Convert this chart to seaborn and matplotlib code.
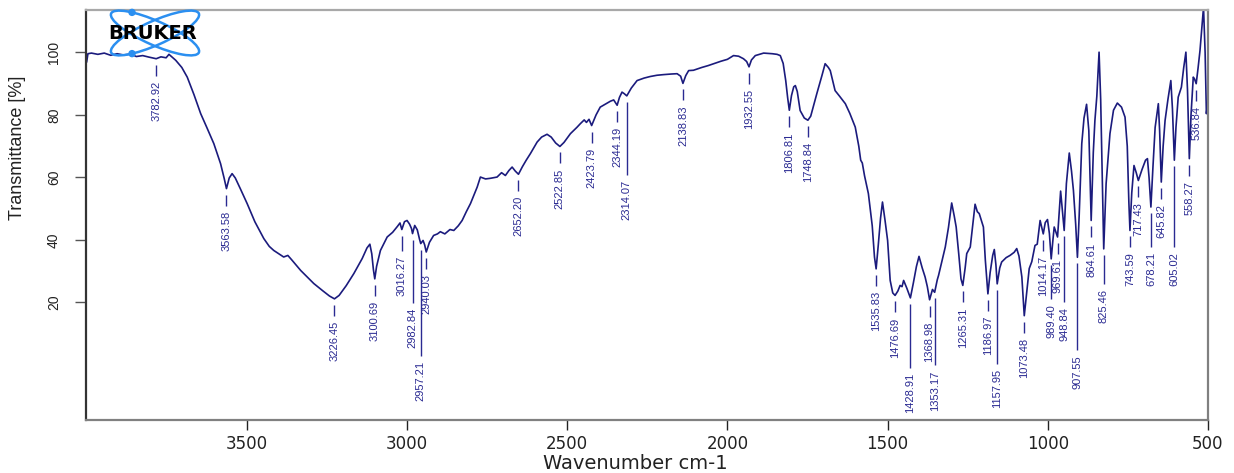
import matplotlib
matplotlib.use("Agg")
import numpy as np
import pandas as pd
import matplotlib.pyplot as plt
import seaborn as sns
from matplotlib.patches import Ellipse, Circle
from matplotlib import font_manager

# ---- spectrum (wavenumber in cm-1, transmittance in %) ----
wavenumber = [
    4000, 3996, 3985, 3965, 3945, 3925, 3905, 3885, 3862, 3845, 3825, 3805,
    3782.92, 3768, 3752, 3743, 3722, 3703, 3686, 3665, 3644, 3625, 3603, 3582,
    3571, 3563.58, 3555, 3546, 3536, 3520, 3499, 3475, 3447, 3430, 3416, 3385,
    3372, 3360, 3332, 3291, 3262, 3242, 3226.45, 3212, 3190, 3166, 3140, 3125,
    3116, 3110, 3105, 3100.69, 3095, 3083, 3062, 3045, 3030, 3022, 3016.27,
    3008, 3000, 2992, 2986, 2982.84, 2976, 2968, 2961, 2957.21, 2950, 2945,
    2940.03, 2930, 2917, 2905, 2896, 2882, 2866, 2854, 2840, 2828, 2815, 2802,
    2790, 2781, 2771, 2755, 2740, 2719, 2705, 2693, 2682, 2672, 2662, 2652.20,
    2640, 2628, 2615, 2594, 2580, 2563, 2550, 2536, 2522.85, 2510, 2490, 2470,
    2459, 2447, 2440, 2432, 2423.79, 2410, 2397, 2380, 2365, 2355, 2344.19,
    2337, 2329, 2322, 2314.07, 2300, 2282, 2260, 2241, 2220, 2200, 2175, 2157,
    2146, 2138.83, 2130, 2121, 2106, 2080, 2060, 2043, 2020, 2000, 1981, 1965,
    1950, 1940, 1932.55, 1925, 1913, 1887, 1860, 1845, 1835, 1826, 1818, 1812,
    1806.81, 1800, 1793, 1788, 1782, 1773, 1760, 1748.84, 1740, 1721, 1705,
    1695, 1685, 1679, 1664, 1650, 1632, 1618, 1601, 1590, 1584, 1579, 1572,
    1560, 1548, 1541, 1535.83, 1529, 1522, 1516, 1508, 1500, 1492, 1484,
    1476.69, 1468, 1461, 1455, 1450, 1440, 1428.91, 1420, 1410, 1402, 1392,
    1383, 1376, 1368.98, 1360, 1353.17, 1345, 1341, 1320, 1310, 1300, 1292,
    1286, 1278, 1271, 1265.31, 1258, 1253, 1242, 1235, 1227, 1220, 1214, 1201,
    1195, 1186.97, 1180, 1172, 1167, 1162, 1157.95, 1150, 1144, 1130, 1118,
    1105, 1097, 1090, 1081, 1073.48, 1065, 1058, 1050, 1040, 1033, 1024,
    1014.17, 1008, 1001, 995, 989.40, 984, 980, 975, 969.61, 965, 960, 955,
    948.84, 942, 933, 926, 920, 913, 907.55, 902, 894, 887, 879, 872, 864.61,
    858, 853, 847, 840, 835, 830, 825.46, 818, 806, 795, 783, 770, 759, 752,
    747, 743.59, 738, 731, 724, 717.43, 706, 695, 689, 684, 678.21, 672, 665,
    655, 651, 645.82, 640, 634, 625, 616, 611, 605.02, 600, 593, 583, 576, 569,
    564, 558.27, 553, 546, 542, 536.84, 531, 525, 519, 514, 509, 505, 501,
]
transmittance = [
    96.9, 99.6, 99.8, 99.4, 99.8, 99.1, 99.6, 99.2, 99.5, 98.7, 99.0, 98.5,
    98.0, 98.6, 98.3, 99.4, 97.5, 95.2, 92.1, 86.5, 80.4, 76.0, 70.8, 64.4,
    59.8, 56.4, 59.8, 61.2, 59.8, 56.3, 51.6, 45.8, 40.4, 37.9, 36.6, 34.5,
    35.0, 33.6, 30.2, 26.0, 23.6, 22.0, 21.1, 22.2, 25.3, 29.2, 34.0, 37.4,
    38.6, 35.5, 30.5, 27.5, 31.5, 36.6, 40.9, 42.4, 44.3, 45.4, 43.3,
    45.8, 46.2, 45.0, 43.6, 42.0, 44.6, 43.2, 40.2, 38.8, 39.8, 38.4,
    36.1, 39.2, 41.4, 41.9, 42.6, 41.9, 43.3, 43.0, 44.5, 46.2, 49.0, 51.6,
    54.6, 56.9, 60.1, 59.5, 59.7, 60.1, 61.5, 60.6, 62.2, 63.3, 62.0, 61.0,
    63.4, 65.5, 67.6, 71.3, 72.9, 73.8, 72.9, 71.0, 69.9, 71.2, 74.0, 76.0,
    77.2, 78.4, 77.6, 78.6, 76.6, 80.0, 82.5, 83.5, 84.4, 84.8, 83.1,
    85.6, 87.3, 86.8, 86.1, 88.6, 91.0, 91.8, 92.3, 92.7, 92.9, 93.1, 93.2,
    92.4, 90.1, 92.6, 94.2, 94.3, 95.2, 95.8, 96.4, 97.2, 97.8, 99.0, 98.8,
    98.0, 97.1, 95.4, 97.6, 99.0, 99.8, 99.6, 99.4, 99.0, 96.5, 91.0, 85.5,
    81.5, 86.2, 89.0, 89.4, 87.5, 81.4, 79.0, 78.3, 79.6, 86.8, 92.6,
    96.4, 95.2, 94.2, 87.8, 86.0, 83.6, 80.5, 76.1, 70.0, 65.5, 64.6, 60.5,
    54.8, 44.5, 34.5, 30.7, 38.5, 47.0, 52.1, 46.2, 39.8, 27.0, 23.0,
    22.2, 23.6, 25.4, 25.0, 27.0, 24.5, 21.4, 26.0, 31.5, 34.7, 31.0,
    28.1, 25.0, 20.8, 24.1, 23.2, 27.2, 28.6, 37.7, 44.0, 51.8, 47.6,
    44.1, 35.5, 27.5, 25.4, 31.0, 35.6, 37.7, 44.0, 51.4, 49.0, 48.4, 44.1,
    33.5, 22.7, 29.5, 35.0, 36.9, 32.0, 25.9, 31.0, 32.9, 34.3, 35.0,
    36.0, 37.2, 34.8, 28.1, 15.7, 24.0, 30.8, 33.0, 38.2, 38.6, 46.2,
    41.9, 45.5, 46.5, 42.0, 33.9, 40.0, 44.1, 42.6, 40.9, 48.0, 55.6, 50.0,
    43.0, 58.0, 67.8, 62.0, 55.8, 45.0, 34.4, 48.0, 70.8, 79.0, 83.4, 75.0, 46.2,
    68.0, 78.2, 86.0, 100.1, 85.0, 60.0, 37.1, 58.0, 74.0, 81.5, 83.8, 82.5, 79.3, 70.0,
    52.0, 43.0, 55.0, 63.8, 61.5, 59.0, 62.5, 65.5, 66.0, 60.0, 50.5, 63.0, 76.0,
    83.6, 75.0, 58.5, 70.0, 78.2, 85.0, 91.0, 82.0, 65.5, 76.0, 85.7, 88.9, 95.0, 100.1,
    88.0, 66.0, 80.0, 92.1, 91.5, 90.0, 95.0, 100.6, 108.0, 114.5, 100.0, 80.4, 84.0,
]

# ---- labelled absorption bands ----
peak_wavenumbers = [
    3782.92, 3563.58, 3226.45, 3100.69, 3016.27, 2982.84, 2957.21, 2940.03,
    2652.20, 2522.85, 2423.79, 2344.19, 2314.07, 2138.83, 1932.55, 1806.81,
    1748.84, 1535.83, 1476.69, 1428.91, 1368.98, 1353.17, 1265.31, 1186.97,
    1157.95, 1073.48, 1014.17, 989.40, 969.61, 948.84, 907.55, 864.61,
    825.46, 743.59, 717.43, 678.21, 645.82, 605.02, 558.27, 536.84,
]

x_ticks = [3500, 3000, 2500, 2000, 1500, 1000, 500]
y_ticks = [20, 40, 60, 80, 100]

# extra downward shift (pixels) of crowded labels so they do not collide
label_drop = {
    3016.27: 4, 2982.84: 52, 2957.21: 95, 2314.07: 62, 1428.91: 53,
    1353.17: 56, 1157.95: 63, 989.40: 23, 948.84: 55, 907.55: 76,
    825.46: 18, 678.21: 23, 605.02: 70,
}

LINE = "#1b1b7d"
LABEL = "#2a2a92"

sns.set_theme(style="white")
plt.rcParams["font.family"] = ["Liberation Sans", "DejaVu Sans"]

installed = {f.name for f in font_manager.fontManager.ttflist}
if "Liberation Sans Narrow" in installed:
    peak_font = dict(family="Liberation Sans Narrow", fontsize=9.6)
else:
    peak_font = dict(family="Liberation Sans", fontsize=8)

W, H = 1234, 473
fig = plt.figure(figsize=(W / 100, H / 100), dpi=100)
fig.patch.set_facecolor("white")
ax = fig.add_axes([86 / W, 1 - 420 / H, 1122 / W, 410 / H])

df = pd.DataFrame({"Wavenumber": wavenumber, "Transmittance": transmittance})
sns.lineplot(data=df, x="Wavenumber", y="Transmittance", sort=False,
             estimator=None, color=LINE, linewidth=1.2, ax=ax)

ymin, ymax = -17.7, 113.6
ax.set_xlim(4002, 500.4)
ax.set_ylim(ymin, ymax)
units_per_px = (ymax - ymin) / 410.0

# band labels: short tick under the band, then the rotated value
wn_sorted = np.array(wavenumber[::-1], dtype=float)
tr_sorted = np.array(transmittance[::-1], dtype=float)
for wn in peak_wavenumbers:
    t = float(np.interp(wn, wn_sorted, tr_sorted))
    drop = label_drop.get(wn, 0)
    y0 = t - 6 * units_per_px
    y1 = t - (17 + drop) * units_per_px
    ax.plot([wn, wn], [y0, y1], color=LABEL, linewidth=1.0,
            solid_capstyle="butt")
    ax.text(wn, t - (22 + drop) * units_per_px, f"{wn:.2f}", rotation=90,
            ha="center", va="top", color=LABEL, **peak_font)

ax.set_xticks(x_ticks)
ax.set_xticklabels([str(v) for v in x_ticks], family="DejaVu Sans",
                   fontsize=12, color="#222222")
ax.set_yticks(y_ticks)
ax.set_yticklabels([str(v) for v in y_ticks], fontsize=10, color="#222222",
                   rotation=90, va="center")
ax.tick_params(axis="x", direction="out", length=7, width=1.0,
               color="#222222", pad=4, bottom=True)
ax.tick_params(axis="y", direction="out", length=8, width=1.0,
               color="#555555", pad=10, left=True)

ax.set_xlabel("Wavenumber cm-1", family="DejaVu Sans", fontsize=14,
              color="#222222", va="baseline")
ax.set_ylabel("Transmittance [%]", fontsize=13, color="#222222")
ax.xaxis.set_label_coords((635 - 86) / 1122, (420 - 469) / 410)
ax.yaxis.set_label_coords((26 - 86) / 1122, (420 - 148) / 410)

ax.spines["left"].set_color("#333333")
ax.spines["bottom"].set_color("#808080")
ax.spines["top"].set_color("#a8a8a8")
ax.spines["right"].set_color("#808080")
for s in ax.spines.values():
    s.set_linewidth(1.6)
    s.set_visible(True)

# ---- BRUKER logo in the top-left corner ----
lax = fig.add_axes([86 / W, 1 - 58 / H, 136 / W, 50 / H])
lax.set_xlim(86, 222)
lax.set_ylim(58, 8)
lax.axis("off")
BLUE = "#2b8ff0"
cx, cy, a, b, ang = 155.0, 33.0, 96.0, 24.0, 24.0
tt = np.linspace(0, 2 * np.pi, 1441)
for sign, pick in ((1, np.argmin), (-1, np.argmax)):
    lax.add_patch(Ellipse((cx, cy), a, b, angle=sign * ang, fill=False,
                          edgecolor=BLUE, linewidth=1.8))
    th = np.deg2rad(sign * ang)
    ex = cx + a / 2 * np.cos(tt) * np.cos(th) - b / 2 * np.sin(tt) * np.sin(th)
    ey = cy + a / 2 * np.cos(tt) * np.sin(th) + b / 2 * np.sin(tt) * np.cos(th)
    # dot where the outer edge of the ring passes x = 133
    near = np.abs(ex - 133) < 1.0
    cand = np.where(near)[0]
    i = cand[pick(ey[cand])]
    lax.add_patch(Circle((ex[i], ey[i]), 3.0, color=BLUE))
lax.text(153, 33.5, "BRUKER", family="DejaVu Sans", fontweight="heavy",
         fontsize=14, color="black", ha="center", va="center")

fig.savefig("out.png", dpi=100, facecolor="white")
